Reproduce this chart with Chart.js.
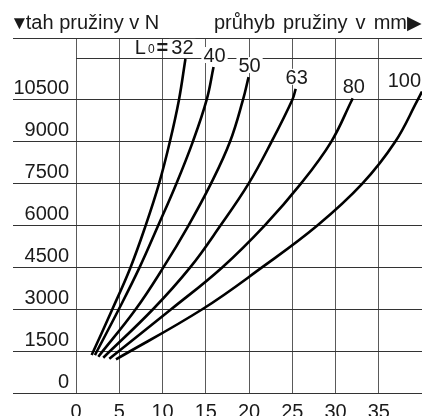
<!DOCTYPE html>
<html>
<head>
<meta charset="utf-8">
<script src="https://cdn.jsdelivr.net/npm/chart.js@4/dist/chart.umd.min.js"></script>
<style>
  body { margin: 0; background: #fff; }
  #wrap { position: relative; width: 422px; height: 416px; overflow: hidden; }
  #chart { position: absolute; left: 0; top: 0; }
  .head {
    position: absolute; top: 10px; font: 20px "Liberation Sans", Arial, sans-serif;
    color: #1a1a1a; line-height: 24px; white-space: nowrap;
  }
  .head .tri { font-size: 19px; }
  #headLeft { left: 10px; }
  #headLeft .tri { margin-right: -3px; }
  #headRight { right: 0px; word-spacing: 2.5px; }
</style>
</head>
<body>
<div id="wrap">
  <canvas id="chart" width="422" height="416"></canvas>
  <div class="head" id="headLeft"><span class="tri">▼</span>tah pružiny v N</div>
  <div class="head" id="headRight">průhyb pružiny v mm<span class="tri">▶</span></div>
</div>
<script>
// -------- DATA --------
const lengths = [32, 40, 50, 63, 80, 100];   // L0 in mm

// deflection in mm / force in N, one pair per spring length
const defl32 = [1.81, 4.2, 6.3, 8.05, 9.6, 10.85, 11.9, 12.65];
const force32 = [1360, 3000, 4500, 6000, 7500, 9000, 10500, 11970];

const defl40 = [2.19, 4.95, 7.35, 9.5, 11.6, 13.5, 15.1, 15.9];
const force40 = [1360, 3000, 4500, 6000, 7500, 9000, 10500, 11680];

const defl50 = [2.58, 6.9, 10.1, 13.0, 15.6, 17.8, 19.3, 19.95];
const force50 = [1300, 3000, 4500, 6000, 7500, 9000, 10500, 11320];

const defl63 = [3.15, 8.9, 13.2, 16.7, 19.95, 22.6, 25.0, 25.4];
const force63 = [1265, 3000, 4500, 6000, 7500, 9000, 10500, 10900];

const defl80 = [3.85, 11.0, 16.9, 21.8, 26.0, 29.5, 31.9, 32.0];
const force80 = [1230, 3000, 4500, 6000, 7500, 9000, 10500, 10560];

const defl100 = [4.62, 14.6, 21.5, 27.9, 33.1, 36.9, 39.5, 40.0];
const force100 = [1205, 3000, 4500, 6000, 7500, 9000, 10500, 10800];

const deflTicks = [0, 5, 10, 15, 20, 25, 30, 35];
const deflMax = 40;
const forceTicks = [0, 1500, 3000, 4500, 6000, 7500, 9000, 10500];
const forceExtraGrid = 12000;
const forceMax = 12720;

const curves = [
    [defl32, force32], [defl40, force40], [defl50, force50],
    [defl63, force63], [defl80, force80], [defl100, force100]
];

const FONT = '"Liberation Sans", Arial, sans-serif';

// -------- CURVE LABELS --------
const curveLabels = {
    id: "curveLabels",
    afterDatasetsDraw(chart) {
        const { ctx, chartArea } = chart;
        ctx.save();
        ctx.textBaseline = "alphabetic";
        chart.data.datasets.forEach((ds, i) => {
            const pts = chart.getDatasetMeta(i).data;
            const end = pts[pts.length - 1];
            const text = String(lengths[i]);
            ctx.font = "20px " + FONT;
            const w = ctx.measureText(text).width;
            let cx = i === 0 ? end.x - 3 : end.x + 1;
            if (cx + w / 2 > chartArea.right - 1) cx = chartArea.right - 1 - w / 2;
            const base = end.y - 5;

            ctx.fillStyle = "#fff";
            ctx.fillRect(cx - w / 2 - 2, base - 15, w + 4, 16);
            ctx.fillStyle = "#1a1a1a";
            ctx.textAlign = "center";
            ctx.fillText(text, cx, base);

            if (i === 0) {
                // "L0=" in front of the first value
                let x = cx - w / 2 - 3;
                ctx.textAlign = "right";
                ctx.font = "bold 20px " + FONT;
                ctx.fillText("=", x, base);
                x -= ctx.measureText("=").width + 2;
                ctx.font = "12px " + FONT;
                ctx.fillText("0", x, base - 1);
                x -= ctx.measureText("0").width + 2;
                ctx.font = "20px " + FONT;
                ctx.fillText("L", x, base);
            }
        });
        ctx.restore();
    }
};

// -------- CHART --------
const chart = new Chart(document.getElementById("chart"), {
    type: "scatter",
    data: {
        datasets: curves.map(([xs, ys], i) => ({
            label: "L0=" + lengths[i],
            data: xs.map((x, k) => ({ x, y: ys[k] })),
            showLine: true,
            borderColor: "#000",
            borderWidth: 2.6,
            pointRadius: 0,
            tension: 0.4,
            fill: false
        }))
    },
    options: {
        responsive: false,
        animation: false,
        layout: { padding: { left: 13, top: 38, right: 0, bottom: 0 } },
        plugins: {
            legend: { display: false },
            tooltip: { enabled: false }
        },
        scales: {
            x: {
                type: "linear",
                min: 0,
                max: deflMax,
                afterBuildTicks: s => { s.ticks = deflTicks.map(v => ({ value: v })); },
                afterFit: s => { s.height = 23; },
                border: { display: false },
                grid: { color: "#5a5a5a", lineWidth: 1, drawTicks: false },
                ticks: {
                    padding: 7,
                    autoSkip: false,
                    maxRotation: 0,
                    color: "#1a1a1a",
                    font: { family: FONT, size: 20 },
                    callback: v => String(v)
                }
            },
            y: {
                type: "linear",
                min: 0,
                max: forceMax,
                afterBuildTicks: s => {
                    s.ticks = forceTicks.concat([forceExtraGrid, forceMax]).map(v => ({ value: v }));
                },
                afterFit: s => { s.width = 63; },
                border: { display: false },
                grid: {
                    color: "#333",
                    lineWidth: 1,
                    tickLength: 63,
                    tickColor: c => (c.tick && c.tick.value === forceExtraGrid) ? "rgba(0,0,0,0)" : "#333"
                },
                ticks: {
                    padding: -56,
                    labelOffset: -11,
                    autoSkip: false,
                    color: "#1a1a1a",
                    font: { family: FONT, size: 20 },
                    callback: v => forceTicks.includes(v) ? String(v) : ""
                }
            }
        }
    },
    plugins: [curveLabels]
});
</script>
</body>
</html>
